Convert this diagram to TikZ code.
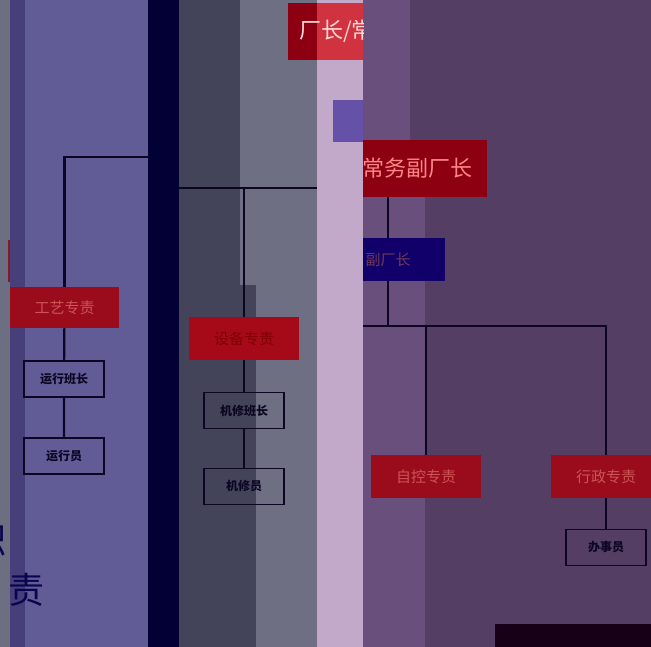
\documentclass[tikz,border=0pt]{standalone}
\usepackage{fontspec}
\newfontfamily\cjk{Noto Sans CJK SC}
\usetikzlibrary{positioning}

\definecolor{bgray}{HTML}{6C6E82}
\definecolor{bindigo}{HTML}{463F79}
\definecolor{bviolet}{HTML}{615C95}
\definecolor{bnavy}{HTML}{030036}
\definecolor{bslate}{HTML}{434359}
\definecolor{bsilver}{HTML}{6F6F83}
\definecolor{bpink}{HTML}{C2A9CA}
\definecolor{bmauve}{HTML}{684F7C}
\definecolor{bplum}{HTML}{553E63}
\definecolor{darkred}{HTML}{8C0012}
\definecolor{lightred}{HTML}{D0323F}
\definecolor{boxred}{HTML}{9A0C1C}
\definecolor{equipred}{HTML}{A60A18}
\definecolor{boxnavy}{HTML}{12006A}
\definecolor{patch}{HTML}{6552A8}
\definecolor{linedark}{HTML}{0C0624}

\begin{document}
\begin{tikzpicture}[x=1pt,y=-1pt,
  redbox/.style={fill=boxred, inner sep=0pt, minimum width=110pt, minimum height=43pt,
    text=red!45!pink!80!black, font=\cjk\fontsize{15}{15}\selectfont},
  staffbox/.style={draw=linedark, line width=1.8pt, inner sep=0pt, minimum width=80pt,
    minimum height=36pt, text=linedark, font=\cjk\bfseries\fontsize{12}{12}\selectfont},
  link/.style={draw=linedark, line width=2.2pt}]

\useasboundingbox (0,0) rectangle (651,647);

% background bands
\fill[bgray] (0,0) rectangle (10,647);
\fill[bindigo] (10,0) rectangle (25,647);
\fill[bviolet] (25,0) rectangle (148,647);
\fill[bslate] (179,0) -- (240,0) -- (240,285) -- (256,285) -- (256,647) -- (179,647) -- cycle;
\fill[bsilver] (240,0) -- (317,0) -- (317,647) -- (256,647) -- (256,285) -- (240,285) -- cycle;
\fill[bmauve] (363,0) -- (410,0) -- (410,197) -- (425,197) -- (425,647) -- (363,647) -- cycle;
\fill[bplum] (410,0) -- (651,0) -- (651,647) -- (425,647) -- (425,197) -- (410,197) -- cycle;
\fill[darkred!80!bgray] (8,240) rectangle (10,282);

% chart
\node[redbox, fill=darkred, minimum width=140pt, minimum height=57pt,
  text=pink!70!red, font=\cjk\fontsize{22}{22}\selectfont] (deputy) at (417,168.5) {常务副厂长};
\node[redbox, fill=boxnavy, minimum width=114pt, text=violet!45!pink!55!black] (vice) at (388,259.5) {副厂长};
\node[redbox] (auto) at (426,476.5) {自控专责};
\node[redbox] (admin) at (606,476.5) {行政专责};
\node[staffbox] (clerk) at (606,547.5) {办事员};

\node[redbox, fill=equipred, text=red!50!black] (equip) at (244,338.5) {设备专责};
\node[staffbox] (fitlead) at (244,410.5) {机修班长};
\node[staffbox] (fitter) at (244,486.5) {机修员};

\node[redbox, minimum width=109pt, minimum height=41pt] (craft) at (64.5,307.5) {工艺专责};
\node[staffbox] (oplead) at (64,379) {运行班长};
\node[staffbox] (operator) at (64,456) {运行员};

\coordinate (lbus) at (170,157);
\coordinate (mbusl) at (170,188);
\coordinate (mbusr) at (340,188);
\coordinate (rbus) at (340,326);

\draw[link] (lbus) -| (craft.north);
\draw[link] (craft) -- (oplead) -- (operator);

\draw[link] (mbusl) -- (mbusr);
\draw[link] (equip.north) -- (equip.north |- mbusl);
\draw[link] (equip) -- (fitlead) -- (fitter);

\draw[link] (vice.north) -- (vice.north |- deputy.south);
\draw[link] (vice.south) -- (vice.south |- rbus);
\draw[link] (rbus) -| (admin.north);
\draw[link] (auto.north) -- (auto.north |- rbus);
\draw[link] (admin) -- (clerk);

% overlay bands
\fill[bnavy] (148,0) rectangle (179,647);
\fill[bpink] (317,0) rectangle (363,647);
\fill[darkred] (288,3) rectangle (317,60);
\fill[lightred] (317,3) rectangle (363,60);
\begin{scope}
\clip (288,0) rectangle (363,70);
\node[anchor=west, inner sep=0pt, text=pink!60!white,
  font=\cjk\fontsize{22}{22}\selectfont] (chief) at (299,31.5) {厂长/常务副厂长};
\end{scope}
\fill[patch] (333,100) rectangle (363,142);

\node[text=linedark!80!blue, font=\cjk\fontsize{36}{36}\selectfont] (duty1) at (-11,541) {职};
\node[text=linedark!80!blue, font=\cjk\fontsize{36}{36}\selectfont] (duty2) at (27,590) {责};

\fill[black!70!violet!60!black] (495,624) rectangle (651,647);

\end{tikzpicture}
\end{document}
